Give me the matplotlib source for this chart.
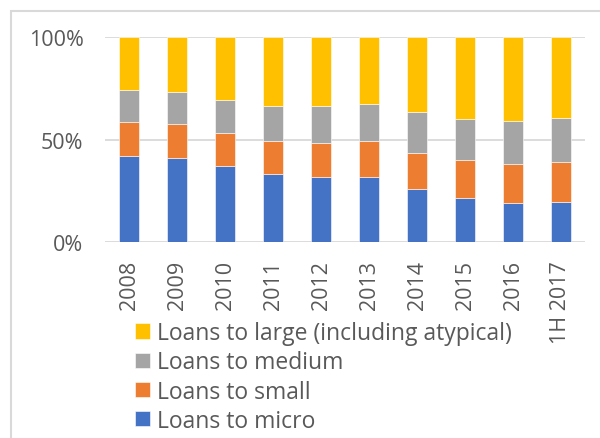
import matplotlib.pyplot as plt
import numpy as np
from matplotlib.patches import Rectangle

plt.rcParams['font.family'] = ['Open Sans', 'DejaVu Sans']

years = ['2008', '2009', '2010', '2011', '2012', '2013', '2014', '2015', '2016', '1H 2017']

# shares of total loans, %
micro = [42.0, 41.0, 37.2, 33.3, 32.0, 32.0, 26.0, 21.6, 19.0, 19.7]
small = [16.4, 16.4, 16.1, 16.1, 16.6, 17.4, 17.7, 18.6, 19.2, 19.5]
medium = [15.6, 15.8, 16.1, 16.8, 17.6, 18.2, 19.6, 20.1, 21.0, 21.5]
large = [26.0, 26.8, 30.6, 33.8, 33.8, 32.4, 36.7, 39.7, 40.8, 39.3]

labels = ['Loans to micro', 'Loans to small', 'Loans to medium',
          'Loans to large (including atypical)']
colors = ['#4472C4', '#ED7D31', '#A5A5A5', '#FFC000']
txt = '#595959'
fs_tick = 15.5
fs_leg = 16.5

fig = plt.figure(figsize=(6, 4.39), dpi=100)
ax = fig.add_axes([0.175, 0.4457, 0.8, 0.4677])

x = np.arange(len(years))
bottom = np.zeros(len(years))
bars = []
for vals, lab, col in zip([micro, small, medium, large], labels, colors):
    b = ax.bar(x, vals, 0.4, bottom=bottom, color=col, label=lab,
               edgecolor='white', linewidth=0.4, zorder=3)
    bars.append(b)
    bottom += np.array(vals)

ax.set_xlim(-0.5, len(years) - 0.5)
ax.set_ylim(0, 100)
ax.set_yticks([0, 50, 100])
ax.set_yticklabels(['0%', '50%', '100%'])
ax.set_xticks(x)
ax.set_xticklabels(years, rotation=90)
ax.yaxis.grid(True, color='#d9d9d9', linewidth=1.3, zorder=0)
ax.tick_params(axis='both', length=0, labelsize=fs_tick, labelcolor=txt)
ax.tick_params(axis='y', pad=15.5)
ax.tick_params(axis='x', pad=12.5)
for s in ax.spines.values():
    s.set_visible(False)

# chart area border
fig.patches.append(Rectangle((11 / 600, -0.1), 1.2, (439 - 12) / 439 + 0.1,
                             transform=fig.transFigure, fill=False,
                             edgecolor='#d9d9d9', linewidth=1.5))

leg = fig.legend(bars[::-1], labels[::-1], loc='upper left',
                 bbox_to_anchor=(135 / 600, 1 - 322 / 439), frameon=False,
                 fontsize=fs_leg, labelcolor=txt, handlelength=0.655,
                 handleheight=0.655, handletextpad=0.3, labelspacing=0.23,
                 borderpad=0, borderaxespad=0)

fig.savefig('out.png', dpi=100)
